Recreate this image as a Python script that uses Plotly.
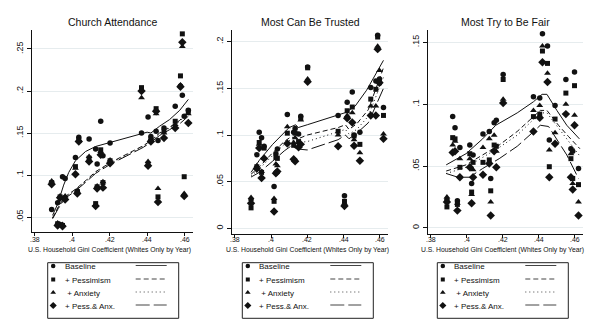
import plotly.graph_objects as go

# Gini coefficient (whites only) for each survey year
gini = [0.3890, 0.3922, 0.3935, 0.3948, 0.3962, 0.4017, 0.4027, 0.4035, 0.4090, 0.4125,
        0.4133, 0.4152, 0.4164, 0.4202, 0.4370, 0.4405, 0.4420, 0.4448, 0.4458, 0.4490,
        0.4550, 0.4578, 0.4588, 0.4598, 0.4620]

# Church Attendance: predicted values by model
church_base = [.059, .067, .041, .098, .096, .121, .081, .145, .143, .131, .113, .164, .123,
               .138, .150, .169, .146, .152, .141, .156, .182, .206, .195, .170, .177]
church_pess = [.091, .042, .074, .040, .073, .110, .080, .141, .120, .066, .086, .130, .091,
               .117, .204, .113, .142, .179, .074, .152, .164, .218, .268, .098, .176]
church_anx = [.093, .043, .075, .041, .075, .108, .081, .142, .122, .065, .087, .128, .092,
              .118, .192, .116, .143, .173, .084, .150, .160, .207, .253, .078, .173]
church_pa = [.089, .040, .073, .039, .071, .101, .078, .140, .116, .063, .084, .124, .085,
             .114, .200, .111, .140, .176, .068, .144, .156, .205, .258, .075, .162]

# Most Can Be Trusted
trust_base = [.031, .079, .103, .097, .088, .045, .080, .085, .122, .103, .107, .101, .120,
              .173, .121, .035, .135, .146, .100, .103, .151, .158, .207, .160, .1295]
trust_pess = [.022, .066, .092, .060, .086, .029, .076, .075, .102, .089, .102, .093, .118,
              .172, .104, .029, .126, .130, .099, .090, .1385, .149, .205, .156, .121]
trust_anx = [.033, .067, .090, .061, .075, .032, .069, .067, .109, .092, .097, .088, .116,
             .160, .100, .027, .121, .124, .095, .081, .131, .131, .195, .169, .101]
trust_pa = [.027, .064, .086, .054, .075, .018, .059, .061, .091, .074, .072, .087, .090,
            .157, .088, .024, .118, .1135, .0885, .0725, .121, .121, .192, .156, .096]

# Most Try to Be Fair
fair_base = [.023, .090, .081, .022, .065, .067, .036, .059, .076, .078, .040, .085, .087,
             .124, .106, .105, .157, .147, .071, .099, .120, .064, .062, .126, .048]
fair_pess = [.017, .073, .072, .019, .049, .060, .029, .053, .053, .055, .030, .067, .066,
             .120, .090, .092, .143, .133, .0495, .088, .109, .056, .040, .115, .035]
fair_anx = [.025, .067, .070, .020, .056, .056, .027, .047, .065, .072, .021, .075, .062,
            .104, .095, .099, .147, .125, .063, .077, .100, .060, .036, .091, .021]
fair_pa = [.021, .061, .062, .014, .041, .049, .020, .041, .043, .052, .010, .062, .049,
           .101, .078, .089, .134, .118, .041, .068, .092, .041, .031, .083, .010]

# Smoothed fits (Church Attendance)
church_fit_base_x = [.3895, .3923, .3954, .3981, .4017, .4071, .4125, .4205, .4322, .4400,
                     .4420, .4466, .4520, .4574, .4620]
church_fit_base_y = [.052, .066, .088, .103, .117, .128, .134, .139, .146, .151,
                     .150, .158, .166, .177, .190]
church_fit_x = [.3895, .3925, .3960, .4017, .4075, .4125, .4205, .4322, .4380, .4420,
                .4466, .4520, .4574, .4620]
church_fit_pess_y = [.049, .062, .074, .083, .094, .104, .115, .128, .135, .141,
                     .150, .157, .165, .176]
church_fit_anx_y = [.049, .061, .073, .082, .093, .103, .114, .127, .134, .140,
                    .149, .156, .164, .174]
church_fit_pa_y = [.048, .060, .072, .081, .092, .102, .113, .126, .133, .139,
                   .147, .154, .161, .170]

# Smoothed fits (Most Can Be Trusted)
trust_fit_base_x = [.3890, .3936, .4009, .4064, .4100, .4136, .4150, .4200, .4370, .4410,
                    .4464, .4527, .4620]
trust_fit_base_y = [.060, .073, .090, .101, .108, .111, .108, .111, .121, .124,
                    .131, .148, .180]
trust_fit_x = [.3890, .3936, .4009, .4073, .4109, .4150, .4200, .4370, .4410, .4430,
               .4473, .4536, .4620]
trust_fit_pess_y = [.058, .066, .081, .093, .098, .096, .100, .108, .111, .106,
                    .112, .127, .172]
trust_fit_anx_y = [.056, .064, .078, .090, .095, .092, .093, .103, .106, .101,
                   .106, .120, .162]
trust_fit_pa_y = [.055, .060, .072, .083, .088, .085, .084, .095, .100, .096,
                  .102, .113, .150]

# Smoothed fits (Most Try to Be Fair)
fair_fit_base_x = [.3886, .3996, .4088, .4161, .4280, .4370, .4418, .4445, .4500, .4555, .4625]
fair_fit_base_y = [.051, .060, .072, .083, .093, .102, .108, .108, .095, .083, .072]
fair_fit_x = [.3886, .3996, .4088, .4180, .4280, .4372, .4408, .4445, .4509, .4564, .4628]
fair_fit_pess_y = [.046, .051, .059, .067, .078, .090, .095, .095, .083, .074, .064]
fair_fit_anx_y = [.044, .049, .057, .065, .075, .088, .093, .093, .081, .070, .058]
fair_fit_pa_x = [.3886, .3951, .4015, .4088, .4180, .4280, .4372, .4408, .4454, .4500, .4555, .4620]
fair_fit_pa_y = [.044, .041, .041, .048, .056, .066, .078, .083, .082, .071, .059, .040]

titles = ["Church Attendance", "Most Can Be Trusted", "Most Try to Be Fair"]
x_title = "U.S. Household Gini Coefficient (Whites Only by Year)"
x_ticks = [.38, .40, .42, .44, .46]
x_ticktext = [".38", ".4", ".42", ".44", ".46"]
y_ticks = [[.05, .10, .15, .20, .25], [0, .05, .10, .15, .20], [0, .05, .10, .15]]
y_ticktext = [[".05", ".1", ".15", ".2", ".25"], ["0", ".05", ".1", ".15", ".2"],
              ["0", ".05", ".1", ".15"]]
legend_labels = ["Baseline", "+ Pessimism", " + Anxiety", "+ Pess.& Anx."]

W, H = 600, 333
FONT = "Liberation Sans, Arial, Helvetica, sans-serif"
INK = "#111111"

symbols = ["circle", "square", "triangle-up", "diamond"]
msizes = [5.5, 5, 6, 6.5]
dashes = ["solid", "5px,3px", "1px,3px", "14px,4px"]

# panel geometry in pixels: (left, right, top, bottom)
panels = [(32, 193, 30, 232), (232, 388, 30, 234), (428, 583, 30, 234)]
y_ranges = [[0.0322, 0.2726], [-0.0060, 0.2125], [-0.0049, 0.1600]]
x_range = [0.3785, 0.4645]
TICK_LABEL_Y = 239.0
AXIS_TITLE_Y = 249.5

series_pts = [
    [church_base, church_pess, church_anx, church_pa],
    [trust_base, trust_pess, trust_anx, trust_pa],
    [fair_base, fair_pess, fair_anx, fair_pa],
]
series_fit = [
    [(church_fit_base_x, church_fit_base_y), (church_fit_x, church_fit_pess_y),
     (church_fit_x, church_fit_anx_y), (church_fit_x, church_fit_pa_y)],
    [(trust_fit_base_x, trust_fit_base_y), (trust_fit_x, trust_fit_pess_y),
     (trust_fit_x, trust_fit_anx_y), (trust_fit_x, trust_fit_pa_y)],
    [(fair_fit_base_x, fair_fit_base_y), (fair_fit_x, fair_fit_pess_y),
     (fair_fit_x, fair_fit_anx_y), (fair_fit_pa_x, fair_fit_pa_y)],
]

fig = go.Figure()
annotations = []
shapes = []
layout_axes = {}

for i, (l, r, t, b) in enumerate(panels):
    n = "" if i == 0 else str(i + 1)
    xa, ya = "x" + n, "y" + n
    layout_axes["xaxis" + n] = dict(
        domain=[l / W, r / W], range=x_range, anchor=ya,
        tickvals=x_ticks, showticklabels=False, ticks="outside", ticklen=3,
        tickcolor=INK, showline=True, linecolor=INK, linewidth=1,
        showgrid=False, zeroline=False,
    )
    layout_axes["yaxis" + n] = dict(
        domain=[1 - b / H, 1 - t / H], range=y_ranges[i], anchor=xa,
        tickvals=y_ticks[i], ticktext=y_ticktext[i], ticks="outside", ticklen=4,
        tickcolor=INK, tickangle=-90, showline=True, linecolor=INK, linewidth=1,
        showgrid=True, gridcolor="#e6ecee", gridwidth=1, zeroline=False,
        tickfont=dict(family=FONT, size=9, color=INK),
    )
    # scatter points by model
    for k in range(4):
        fig.add_trace(go.Scatter(
            x=gini, y=series_pts[i][k], mode="markers", xaxis=xa, yaxis=ya,
            marker=dict(symbol=symbols[k], size=msizes[k], color=INK, line=dict(width=0)),
            showlegend=False, hoverinfo="skip"))
    # smoothed fits
    for k in range(4):
        fx, fy = series_fit[i][k]
        fig.add_trace(go.Scatter(
            x=fx, y=fy, mode="lines", xaxis=xa, yaxis=ya,
            line=dict(color=INK, width=1, dash=dashes[k]),
            showlegend=False, hoverinfo="skip"))
    # x tick labels, set tight under the axis
    for v, s in zip(x_ticks, x_ticktext):
        annotations.append(dict(
            x=v, y=1 - TICK_LABEL_Y / H, xref=xa, yref="paper", text=s,
            showarrow=False, xanchor="center", yanchor="middle", borderpad=0,
            font=dict(family=FONT, size=7, color=INK)))
    cx = (l + r) / 2
    annotations.append(dict(
        x=cx / W, y=1 - 22.5 / H, xref="paper", yref="paper", text=titles[i],
        showarrow=False, xanchor="center", yanchor="middle",
        font=dict(family=FONT, size=10.5, color=INK)))
    annotations.append(dict(
        x=(cx - 3) / W, y=1 - AXIS_TITLE_Y / H, xref="paper", yref="paper", text=x_title,
        showarrow=False, xanchor="center", yanchor="middle", borderpad=0,
        font=dict(family=FONT, size=6.8, color=INK)))

# legend boxes below each panel, drawn on a full-figure pixel overlay
layout_axes["xaxis4"] = dict(domain=[0, 1], range=[0, W], visible=False, fixedrange=True,
                             anchor="y4")
layout_axes["yaxis4"] = dict(domain=[0, 1], range=[H, 0], visible=False, fixedrange=True,
                             anchor="x4")
legend_left = [47.7, 242.3, 437.3]
row_y = [266.5, 280.0, 293.0, 306.0]
for bl in legend_left:
    shapes.append(dict(type="rect", xref="x4", yref="y4", x0=bl, x1=bl + 131,
                       y0=262.7, y1=318.3, line=dict(color="#222222", width=1),
                       fillcolor="rgba(0,0,0,0)"))
    for k in range(4):
        fig.add_trace(go.Scatter(
            x=[bl + 5.5], y=[row_y[k] - 0.5], mode="markers", xaxis="x4", yaxis="y4",
            marker=dict(symbol=symbols[k], size=msizes[k] - 1, color=INK, line=dict(width=0)),
            showlegend=False, hoverinfo="skip"))
        fig.add_trace(go.Scatter(
            x=[bl + 88, bl + 119], y=[row_y[k] - 1, row_y[k] - 1], mode="lines",
            xaxis="x4", yaxis="y4", line=dict(color="#444444", width=1, dash=dashes[k]),
            showlegend=False, hoverinfo="skip"))
        annotations.append(dict(
            x=bl + 15, y=row_y[k], xref="x4", yref="y4", text=legend_labels[k],
            showarrow=False, xanchor="left", yanchor="middle",
            font=dict(family=FONT, size=8, color=INK)))

fig.update_layout(
    width=W, height=H, margin=dict(l=0, r=0, t=0, b=0),
    paper_bgcolor="white", plot_bgcolor="rgba(0,0,0,0)",
    showlegend=False, annotations=annotations, shapes=shapes,
    **layout_axes,
)

fig.write_html("out.html")
